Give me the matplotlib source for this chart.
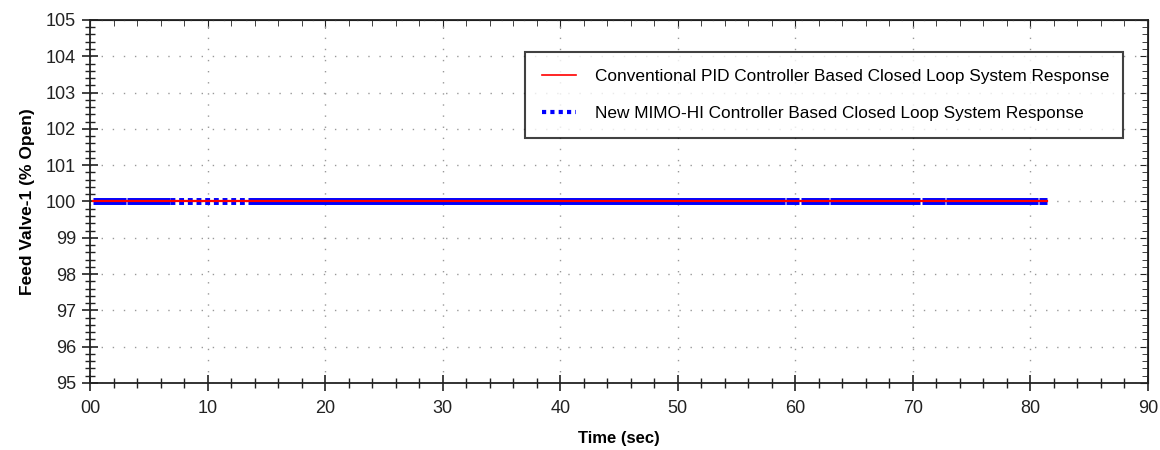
import numpy as np
import matplotlib
matplotlib.use("Agg")
import matplotlib.pyplot as plt
from matplotlib.ticker import MultipleLocator, FuncFormatter
from matplotlib.lines import Line2D

plt.rcParams['font.family'] = ['Liberation Sans', 'DejaVu Sans']

# conventional PID response (time in sec, valve % open)
t_pid = [0.26, 81.4]
y_pid = [100.0, 100.0]

# MIMO-HI response, drawn as runs of samples (gaps where samples are sparse)
t_mimo = [0.26, 3.05, np.nan, 3.15, 6.8, np.nan, 13.4, 59.15, np.nan,
          59.25, 60.35, np.nan, 60.45, 62.85, np.nan, 62.95, 70.65, np.nan,
          70.75, 72.75, np.nan, 72.85, 80.65, np.nan, 80.75, 81.4]
y_mimo = [100, 100, np.nan, 100, 100, np.nan, 100, 100, np.nan,
          100, 100, np.nan, 100, 100, np.nan, 100, 100, np.nan,
          100, 100, np.nan, 100, 100, np.nan, 100, 100]
# sparse stretch of MIMO-HI samples
t_mimo_sparse = [6.8, 13.4]
y_mimo_sparse = [100, 100]

label_pid = "Conventional PID Controller Based Closed Loop System Response"
label_mimo = "New MIMO-HI Controller Based Closed Loop System Response"

fig = plt.figure(figsize=(11.6, 4.5), dpi=100)
ax = fig.add_axes([0.0776, 0.149, 0.912, 0.8066])

ax.plot(t_mimo, y_mimo, color='#0000ff', lw=5, solid_capstyle='butt', zorder=3)
ax.plot(t_mimo_sparse, y_mimo_sparse, color='#0000ff', lw=5,
        linestyle=(0, (0.7, 0.55)), dash_capstyle='butt', zorder=3)
ax.plot(t_pid, y_pid, color='#ff0000', lw=1.6, zorder=4)

ax.set_xlim(0, 90)
ax.set_ylim(95, 105)
ax.xaxis.set_major_locator(MultipleLocator(10))
ax.xaxis.set_minor_locator(MultipleLocator(2))
ax.yaxis.set_major_locator(MultipleLocator(1))
ax.yaxis.set_minor_locator(MultipleLocator(0.2))
ax.xaxis.set_major_formatter(FuncFormatter(lambda v, p: "%02d" % int(round(v))))
ax.yaxis.set_major_formatter(FuncFormatter(lambda v, p: "%d" % int(round(v))))

ax.tick_params(which='major', direction='inout', length=12, width=1.2,
               labelsize=13, colors='#222222', pad=4)
ax.tick_params(which='minor', direction='inout', length=7, width=1.0, colors='#222222')
ax.tick_params(axis='x', which='major', pad=6)

for s in ax.spines.values():
    s.set_linewidth(1.3)
    s.set_color('#222222')

top = ax.secondary_xaxis('top')
top.xaxis.set_major_locator(MultipleLocator(10))
top.xaxis.set_minor_locator(MultipleLocator(2))
top.tick_params(which='both', direction='in', labeltop=False, colors='#222222')
top.tick_params(which='major', length=6)
top.tick_params(which='minor', length=4)
right = ax.secondary_yaxis('right')
right.yaxis.set_major_locator(MultipleLocator(1))
right.yaxis.set_minor_locator(MultipleLocator(0.2))
right.tick_params(which='both', direction='in', labelright=False, colors='#222222')
right.tick_params(which='major', length=6)
right.tick_params(which='minor', length=4)

ax.grid(True, which='major', linestyle=(0, (1, 7)), color='#999999', lw=1.0)

ax.set_xlabel("Time (sec)", fontsize=12, fontweight='bold', labelpad=10)
ax.set_ylabel("Feed Valve-1 (% Open)", fontsize=12.5, fontweight='bold', labelpad=8)

handles = [Line2D([], [], color='#ff0000', lw=1.2),
           Line2D([], [], color='#0000ff', lw=3, linestyle=(0, (1, 1)))]
leg = ax.legend(handles, [label_pid, label_mimo], loc='upper left',
                bbox_to_anchor=(0.411, 0.675, 0.565, 0.237), mode='expand',
                fontsize=12.4, frameon=True, fancybox=False, borderpad=1.0,
                labelspacing=1.25, handlelength=2.0, handletextpad=1.1,
                borderaxespad=0)
leg.get_frame().set_edgecolor('#111111')
leg.get_frame().set_linewidth(1.5)

fig.savefig("out.png", dpi=100)
